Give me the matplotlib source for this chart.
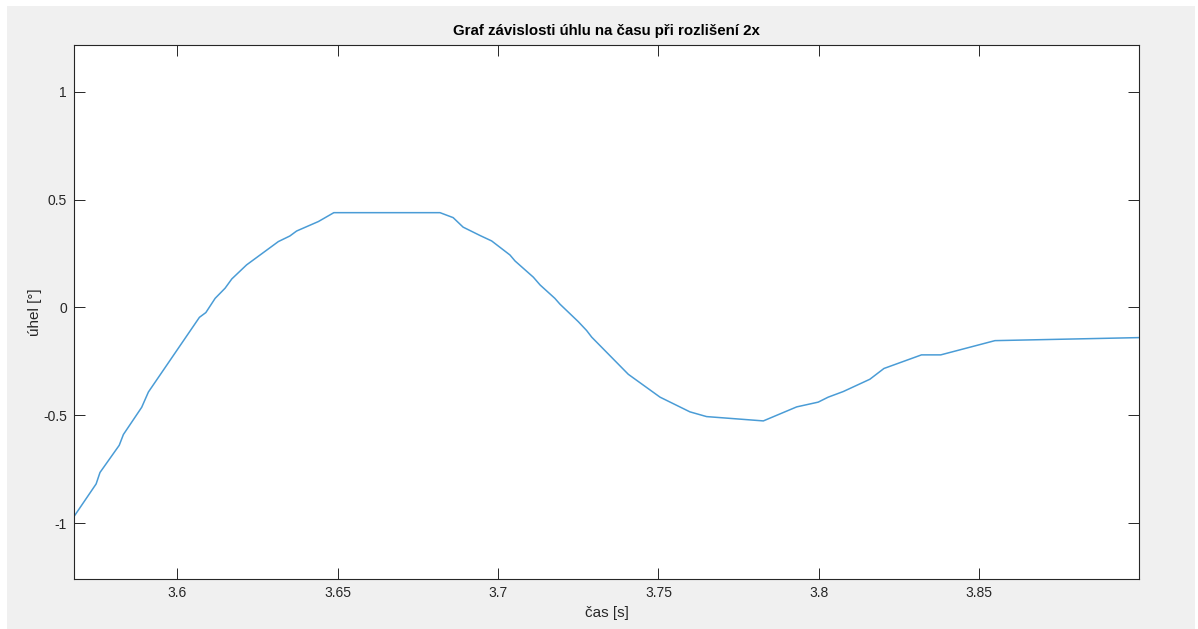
import numpy as np
import matplotlib
matplotlib.use("Agg")
import matplotlib.pyplot as plt
from matplotlib.patches import Rectangle

plt.rcParams['font.family'] = ['Liberation Sans', 'DejaVu Sans']
plt.rcParams['axes.unicode_minus'] = False

# angle vs time
cas = [3.5678, 3.5747, 3.5759, 3.5819, 3.5832, 3.5889, 3.5910, 3.6069, 3.6089,
       3.6118, 3.6149, 3.6170, 3.6216, 3.6315, 3.6351, 3.6372, 3.6440, 3.6488,
       3.6819, 3.6860, 3.6891, 3.6944, 3.6980, 3.7037, 3.7053, 3.7110, 3.7131,
       3.7177, 3.7193, 3.7250, 3.7276, 3.7292, 3.7406, 3.7505, 3.7598, 3.7650,
       3.7827, 3.7931, 3.7998, 3.8029, 3.8076, 3.8159, 3.8203, 3.8320, 3.8380,
       3.8549, 3.8997]
uhel = [-0.969, -0.818, -0.765, -0.639, -0.589, -0.463, -0.392, -0.046, -0.024,
        0.042, 0.089, 0.132, 0.197, 0.305, 0.331, 0.354, 0.398, 0.439,
        0.439, 0.416, 0.372, 0.333, 0.308, 0.243, 0.215, 0.140, 0.104,
        0.042, 0.015, -0.066, -0.107, -0.138, -0.310, -0.416, -0.484, -0.506,
        -0.526, -0.461, -0.439, -0.416, -0.390, -0.333, -0.283, -0.220, -0.220,
        -0.154, -0.140]

xticks = [3.6, 3.65, 3.7, 3.75, 3.8, 3.85]
yticks = [-1, -0.5, 0, 0.5, 1]
ytick_labels = ['-1', '-0.5', '0', '0.5', '1']

fig = plt.figure(figsize=(11.98, 6.29), dpi=100, facecolor='white')
bg = Rectangle((7 / 1198, 0), 1188 / 1198, 623 / 629,
               transform=fig.transFigure, facecolor='#f0f0f0',
               edgecolor='none', zorder=-10)
fig.add_artist(bg)
ax = fig.add_axes([74 / 1198, 49.7 / 629, 1065.3 / 1198, 534.3 / 629])
ax.set_zorder(1)

ax.plot(cas, uhel, color='#4a9cd6', lw=1.1)

ax.set_xlim(3.5678, 3.8999)
ax.set_ylim(-1.26, 1.216)
ax.set_xticks(xticks)
ax.set_xticklabels([str(t) for t in xticks])
ax.set_yticks(yticks)
ax.set_yticklabels(ytick_labels)

ax.tick_params(direction='in', length=8, width=0.7, colors='#262626',
               labelsize=10, top=True, right=True, pad=5)
for s in ax.spines.values():
    s.set_color('#262626')
    s.set_linewidth(0.8)

ax.set_title('Graf závislosti úhlu na času při rozlišení 2x', fontsize=10.8,
             fontweight='bold', pad=7)
ax.set_xlabel('čas [s]', fontsize=11, color='#262626', labelpad=4)
ax.set_ylabel('úhel [°]', fontsize=11, color='#262626', labelpad=1)

fig.savefig('out.png', dpi=100, facecolor=fig.get_facecolor())
